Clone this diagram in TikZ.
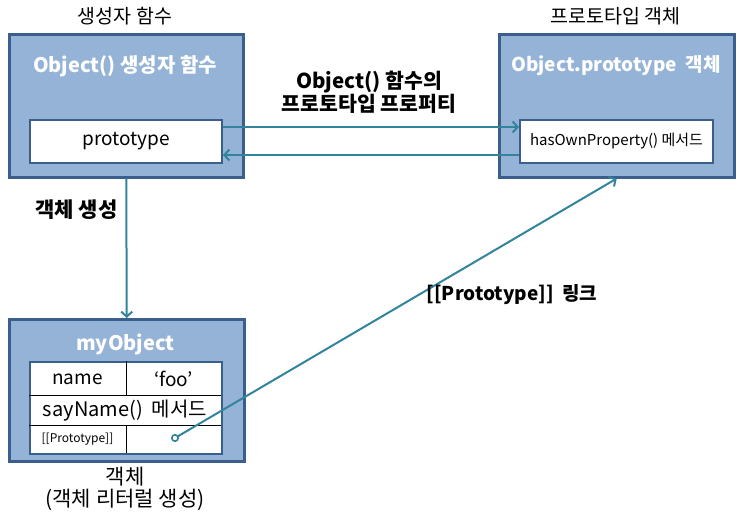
\documentclass[tikz,border=0pt]{standalone}
\usepackage{fontspec}
\setmainfont{Noto Sans CJK KR}
\usetikzlibrary{arrows.meta}
\definecolor{boxfill}{HTML}{95B3D7}
\definecolor{boxdraw}{HTML}{3A5F8C}
\definecolor{linkc}{HTML}{31849B}
\newcommand{\fs}[1]{\fontsize{#1}{\the\numexpr#1*6/5\relax}\selectfont}
\tikzset{
  outerbox/.style={draw=boxdraw, fill=boxfill, line width=2.5pt, inner sep=0pt, anchor=north west},
  innerbox/.style={draw=boxdraw, fill=white, line width=2pt, inner sep=0pt, anchor=north west},
  boxtitle/.style={text=white, font=\fs{20}\bfseries},
  plainlbl/.style={text=black, font=\fontsize{19.5}{23}\selectfont},
  boldlbl/.style={text=black, font=\fs{20}\bfseries, align=center},
  conn/.style={draw=linkc, line width=2pt, -{Straight Barb[length=5pt,width=11pt,line width=2pt]}},
  celltxt/.style={font=\fs{19}},
}
\begin{document}
\begin{tikzpicture}[x=1pt,y=-1pt]
\useasboundingbox (0,0) rectangle (740,517);
% top-left constructor
\node[outerbox, minimum width=234pt, minimum height=143pt] (ctor) at (8,33) {};
\node[boxtitle] (ctortitle) at (125,66) {Object() 생성자 함수};
\node[innerbox, minimum width=192pt, minimum height=43pt, font=\fs{19}] (proto) at (29,119) {prototype};
\node[plainlbl] (ctorlbl) at (125,16) {생성자 함수};
% top-right prototype object
\node[outerbox, minimum width=235pt, minimum height=143pt] (pobj) at (498,33) {};
\node[boxtitle, font=\fs{19}\bfseries] (pobjtitle) at (616,66) {Object.prototype\ \ 객체};
\node[innerbox, minimum width=193pt, minimum height=43pt, font=\fs{15}] (hasown) at (519,119) {hasOwnProperty() 메서드};
\node[plainlbl] (pobjlbl) at (615.5,16) {프로토타입 객체};
% middle arrows
\draw[conn] ([yshift=14.5pt]proto.east) -- ([yshift=14.5pt]hasown.west);
\draw[conn] ([yshift=-13.5pt]hasown.west) -- ([yshift=-13.5pt]proto.east);
\node[boldlbl, font=\fontsize{20.5}{23}\selectfont\bfseries] (midlbl) at (369,92) {Object() 함수의\\프로토타입 프로퍼티};
% bottom object
\node[outerbox, minimum width=235pt, minimum height=142pt] (myobj) at (8,318) {};
\node[boxtitle] (myobjtitle) at (125.5,344) {myObject};
\node[innerbox, minimum width=192pt, minimum height=92pt] (tbl) at (29,361) {};
\draw[black, line width=0.8pt] (29,395) -- (221,395);
\draw[black, line width=0.8pt] (29,425) -- (221,425);
\draw[black, line width=0.8pt] (126,361) -- (126,395);
\draw[black, line width=0.8pt] (126,425) -- (126,453);
\node[celltxt] (namek) at (77.5,379) {name};
\node[celltxt] (namev) at (173.5,379) {‘foo’};
\node[celltxt, font=\fs{20}] (sayname) at (125,411) {sayName()\ \ 메서드};
\node[font=\fs{12}] (protok) at (77.5,439) {[[Prototype]]};
\coordinate (dot) at (175,438);
% arrows
\draw[conn] (ctor.south) -- (myobj.north);
\node[boldlbl, font=\fs{21}\bfseries] (createlbl) at (76.5,210) {객체 생성};
\draw[conn] (dot) -- (pobj.south);
\draw[linkc, line width=1.6pt, fill=white] (dot) circle (3.2pt);
\node[boldlbl, font=\fs{19}\bfseries] (linklbl) at (512,295) {[[Prototype]]\ \ 링크};
% bottom labels
\node[plainlbl, font=\fs{21}] (objlbl) at (125,477) {객체};
\node[plainlbl, font=\fs{21}] (objlbl2) at (125,500) {(객체 리터럴 생성)};
\end{tikzpicture}
\end{document}
